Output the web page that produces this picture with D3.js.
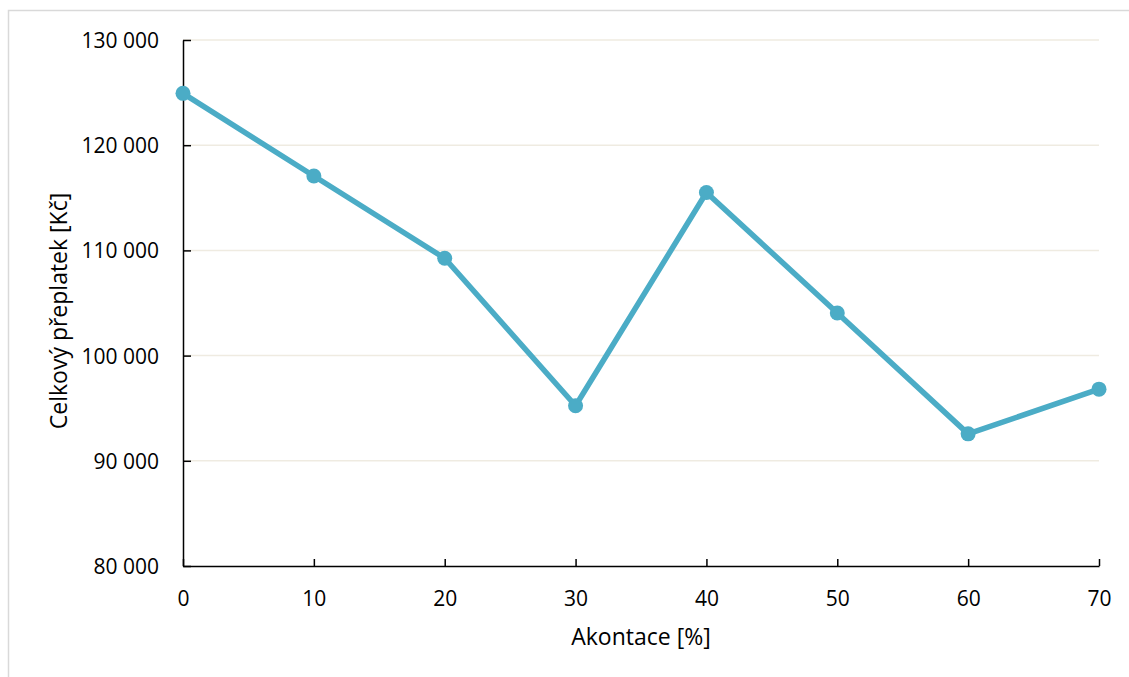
<!DOCTYPE html>
<html><head><meta charset="utf-8">
<script src="https://cdn.jsdelivr.net/npm/d3@7"></script>
<style>
html,body{margin:0;padding:0;background:#fff;}
svg{display:block;font-family:"Open Sans", sans-serif;}
</style></head>
<body>
<svg id="chart" width="1129" height="677"></svg>
<script>
const akontace = [0, 10, 20, 30, 40, 50, 60, 70];
const preplatek = [124930, 117070, 109250, 95230, 115500, 104050, 92560, 96810];
const yTicks = [80000, 90000, 100000, 110000, 120000, 130000];
const xTicks = [0, 10, 20, 30, 40, 50, 60, 70];
const xTitle = "Akontace [%]";
const yTitle = "Celkový přeplatek [Kč]";

const svg = d3.select("#chart");
const L = 183, R = 1099, T = 40, B = 566;
const FS = 21, TFS = 23;
const x = d3.scaleLinear().domain([0, 70]).range([L, R]);
const y = d3.scaleLinear().domain([80000, 130000]).range([B, T]);
const fmt = v => d3.format(",")(v).replace(/,/g, " ");

// chart border
svg.append("rect").attr("x", 8.5).attr("y", 10.5).attr("width", 1140).attr("height", 700)
  .attr("fill", "none").attr("stroke", "#d9d9d9").attr("stroke-width", 1.5);

// gridlines
svg.append("g").selectAll("line").data(yTicks.filter(d => d > 80000)).join("line")
  .attr("x1", L).attr("x2", R).attr("y1", d => y(d)).attr("y2", d => y(d))
  .attr("stroke", "#efebe1").attr("stroke-width", 1.5);

// y axis
const yAxis = svg.append("g").attr("transform", `translate(${L},0)`)
  .call(d3.axisLeft(y).tickValues(yTicks).tickFormat(fmt).tickSizeInner(-8).tickSizeOuter(0).tickPadding(24));
// x axis
const xAxis = svg.append("g").attr("transform", `translate(0,${B})`)
  .call(d3.axisBottom(x).tickValues(xTicks).tickSizeInner(-7).tickSizeOuter(0).tickPadding(25));

[yAxis, xAxis].forEach(g => {
  g.select(".domain").attr("stroke", "#000").attr("stroke-width", 1.5);
  g.selectAll(".tick line").attr("stroke", "#000").attr("stroke-width", 1.5);
  g.selectAll(".tick text").attr("fill", "#000").attr("font-size", FS)
    .attr("font-family", "'Open Sans', sans-serif");
});
xAxis.selectAll(".tick text").attr("dy", "0.71em");
yAxis.selectAll(".tick text").attr("dy", "0.36em");

// line
const data = akontace.map((a, i) => ({a, v: preplatek[i]}));
svg.append("path").datum(data)
  .attr("fill", "none").attr("stroke", "#4bacc6").attr("stroke-width", 5.5)
  .attr("stroke-linejoin", "round").attr("stroke-linecap", "round")
  .attr("d", d3.line().x(d => x(d.a)).y(d => y(d.v)));
svg.append("g").selectAll("circle").data(data).join("circle")
  .attr("cx", d => x(d.a)).attr("cy", d => y(d.v)).attr("r", 7.5)
  .attr("fill", "#4bacc6");

// titles
svg.append("text").attr("x", (L + R) / 2).attr("y", 645).attr("text-anchor", "middle")
  .attr("font-size", TFS).attr("fill", "#000").text(xTitle);
svg.append("text").attr("transform", `translate(67,311) rotate(-90)`)
  .attr("text-anchor", "middle").attr("font-size", TFS).attr("fill", "#000").text(yTitle);
</script>
</body></html>
